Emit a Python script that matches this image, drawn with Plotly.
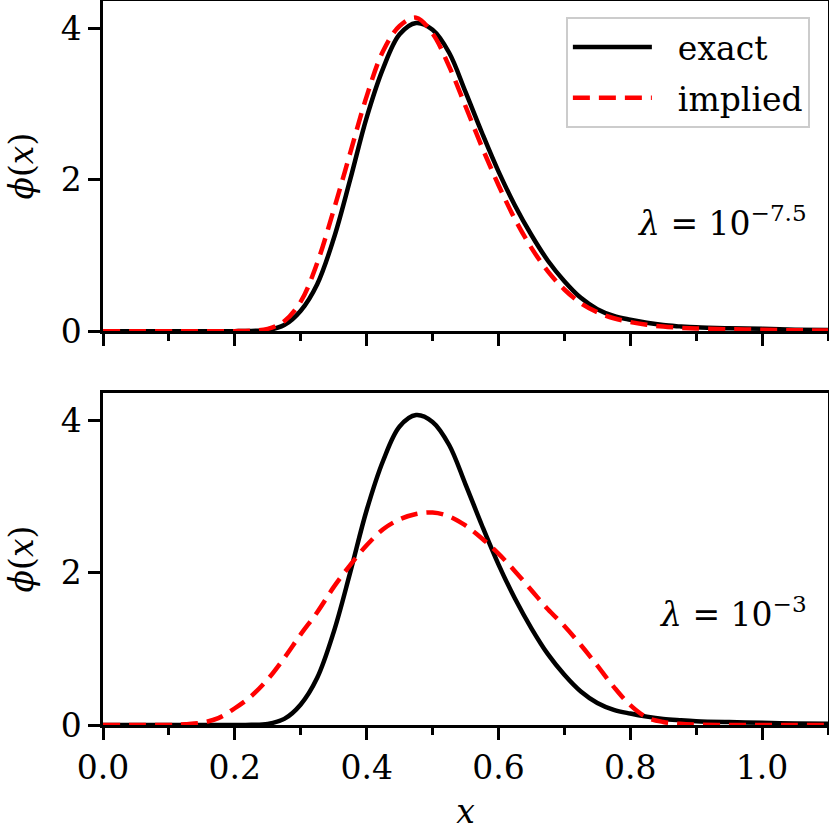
import plotly.graph_objects as go
from plotly.subplots import make_subplots

# x grid the curves were read on
x_vals = [0.0, 0.05, 0.1, 0.125, 0.15, 0.175, 0.2, 0.225, 0.25, 0.275,
          0.3, 0.325, 0.35, 0.375, 0.4, 0.425, 0.45, 0.475, 0.5, 0.525,
          0.55, 0.575, 0.6, 0.625, 0.65, 0.675, 0.7, 0.725, 0.75, 0.775,
          0.8, 0.825, 0.85, 0.875, 0.9, 0.95, 1.0, 1.05, 1.1]

# exact density (same in both panels)
phi_exact = [0.0, 0.0, 0.0, 0.0, 0.0, 0.0, 0.0, 0.003, 0.015, 0.08,
             0.27, 0.62, 1.22, 2.0, 2.82, 3.47, 3.92, 4.07, 3.98, 3.68,
             3.16, 2.62, 2.11, 1.66, 1.27, 0.93, 0.66, 0.44, 0.29, 0.2,
             0.15, 0.11, 0.08, 0.063, 0.05, 0.038, 0.03, 0.02, 0.015]

# implied density, lambda = 10^-7.5
phi_implied_a = [0.0, 0.0, 0.0, 0.0, 0.0, 0.0, 0.0, 0.005, 0.03, 0.13,
                 0.39, 0.9, 1.6, 2.35, 3.1, 3.7, 4.03, 4.14, 3.93, 3.5,
                 2.97, 2.43, 1.93, 1.48, 1.1, 0.79, 0.55, 0.37, 0.25, 0.17,
                 0.12, 0.085, 0.06, 0.045, 0.035, 0.025, 0.018, 0.012, 0.008]

# implied density, lambda = 10^-3
phi_implied_b = [0.0, 0.0, 0.0, 0.01, 0.03, 0.09, 0.22, 0.38, 0.6, 0.88,
                 1.19, 1.48, 1.81, 2.1, 2.36, 2.57, 2.7, 2.77, 2.79, 2.74,
                 2.62, 2.45, 2.25, 2.02, 1.77, 1.52, 1.3, 1.05, 0.78, 0.5,
                 0.26, 0.1, 0.04, 0.015, 0.005, 0.0, 0.0, 0.0, 0.0]

x_ticks = [0.0, 0.2, 0.4, 0.6, 0.8, 1.0]
x_ticklabels = ["0.0", "0.2", "0.4", "0.6", "0.8", "1.0"]
y_ticks = [0, 2, 4]
lam_labels = ["<i>λ</i> = 10<sup>−7.5</sup>", "<i>λ</i> = 10<sup>−3</sup>"]
series_names = ["exact", "implied"]

FONT = "DejaVu Serif"
FS = 33
GAP = "\u00a0\u00a0"  # extra room between legend line and its text

fig = make_subplots(rows=2, cols=1, shared_xaxes=True)

for row, implied in [(1, phi_implied_a), (2, phi_implied_b)]:
    fig.add_trace(go.Scatter(x=x_vals, y=phi_exact, mode="lines", name=GAP + series_names[0],
                             legendgroup="exact",
                             line=dict(color="black", width=4.5, shape="spline", smoothing=1.0),
                             showlegend=(row == 1)), row=row, col=1)
    fig.add_trace(go.Scatter(x=x_vals, y=implied, mode="lines", name=GAP + series_names[1],
                             legendgroup="implied",
                             line=dict(color="#ff0000", width=4.5, dash="17px,9px",
                                       shape="spline", smoothing=1.0),
                             showlegend=(row == 1)), row=row, col=1)

axis_common = dict(showline=True, linecolor="black", linewidth=2.5, mirror=True,
                   ticks="outside", ticklen=12, tickwidth=2.5, tickcolor="black",
                   showgrid=False, zeroline=False, automargin=False,
                   tickfont=dict(family=FONT, size=FS, color="black"))

fig.update_xaxes(range=[0, 1.1], tickvals=x_ticks, ticktext=x_ticklabels,
                 minor=dict(dtick=0.1, tick0=0, ticks="outside", ticklen=7,
                            tickwidth=2.5, tickcolor="black", showgrid=False),
                 **axis_common)
fig.update_xaxes(showticklabels=False, row=1, col=1)
fig.update_xaxes(title=dict(text="<i>x</i>", font=dict(family=FONT, size=FS, color="black"),
                            standoff=14), row=2, col=1)
fig.update_yaxes(range=[0, 4.36], tickvals=y_ticks,
                 title=dict(text="<i>ϕ</i>(<i>x</i>)", font=dict(family=FONT, size=FS, color="black"),
                            standoff=18),
                 **axis_common)

fig.update_layout(
    width=829, height=836,
    margin=dict(l=103, r=1, t=1, b=111),
    plot_bgcolor="white", paper_bgcolor="white",
    font=dict(family=FONT, size=FS, color="black"),
    yaxis=dict(domain=[0.544, 1.0]),
    yaxis2=dict(domain=[0.0, 0.4586]),
    legend=dict(x=0.975, y=0.978, xanchor="right", yanchor="top",
                bgcolor="rgba(255,255,255,0.8)", bordercolor="#cccccc", borderwidth=2,
                font=dict(family=FONT, size=FS, color="black"),
                traceorder="grouped", tracegroupgap=5, itemwidth=79),
    annotations=[
        dict(text=lam_labels[0], xref="paper", yref="paper", x=0.974, y=0.695,
             xanchor="right", yanchor="middle", showarrow=False,
             font=dict(family=FONT, size=FS, color="black")),
        dict(text=lam_labels[1], xref="paper", yref="paper", x=0.974, y=0.155,
             xanchor="right", yanchor="middle", showarrow=False,
             font=dict(family=FONT, size=FS, color="black")),
    ],
)

# the page body has a default 8px margin; drop it so the figure fills the window
fig.write_html("out.html", config={"displayModeBar": False},
               post_script="document.body.style.margin='0';")
